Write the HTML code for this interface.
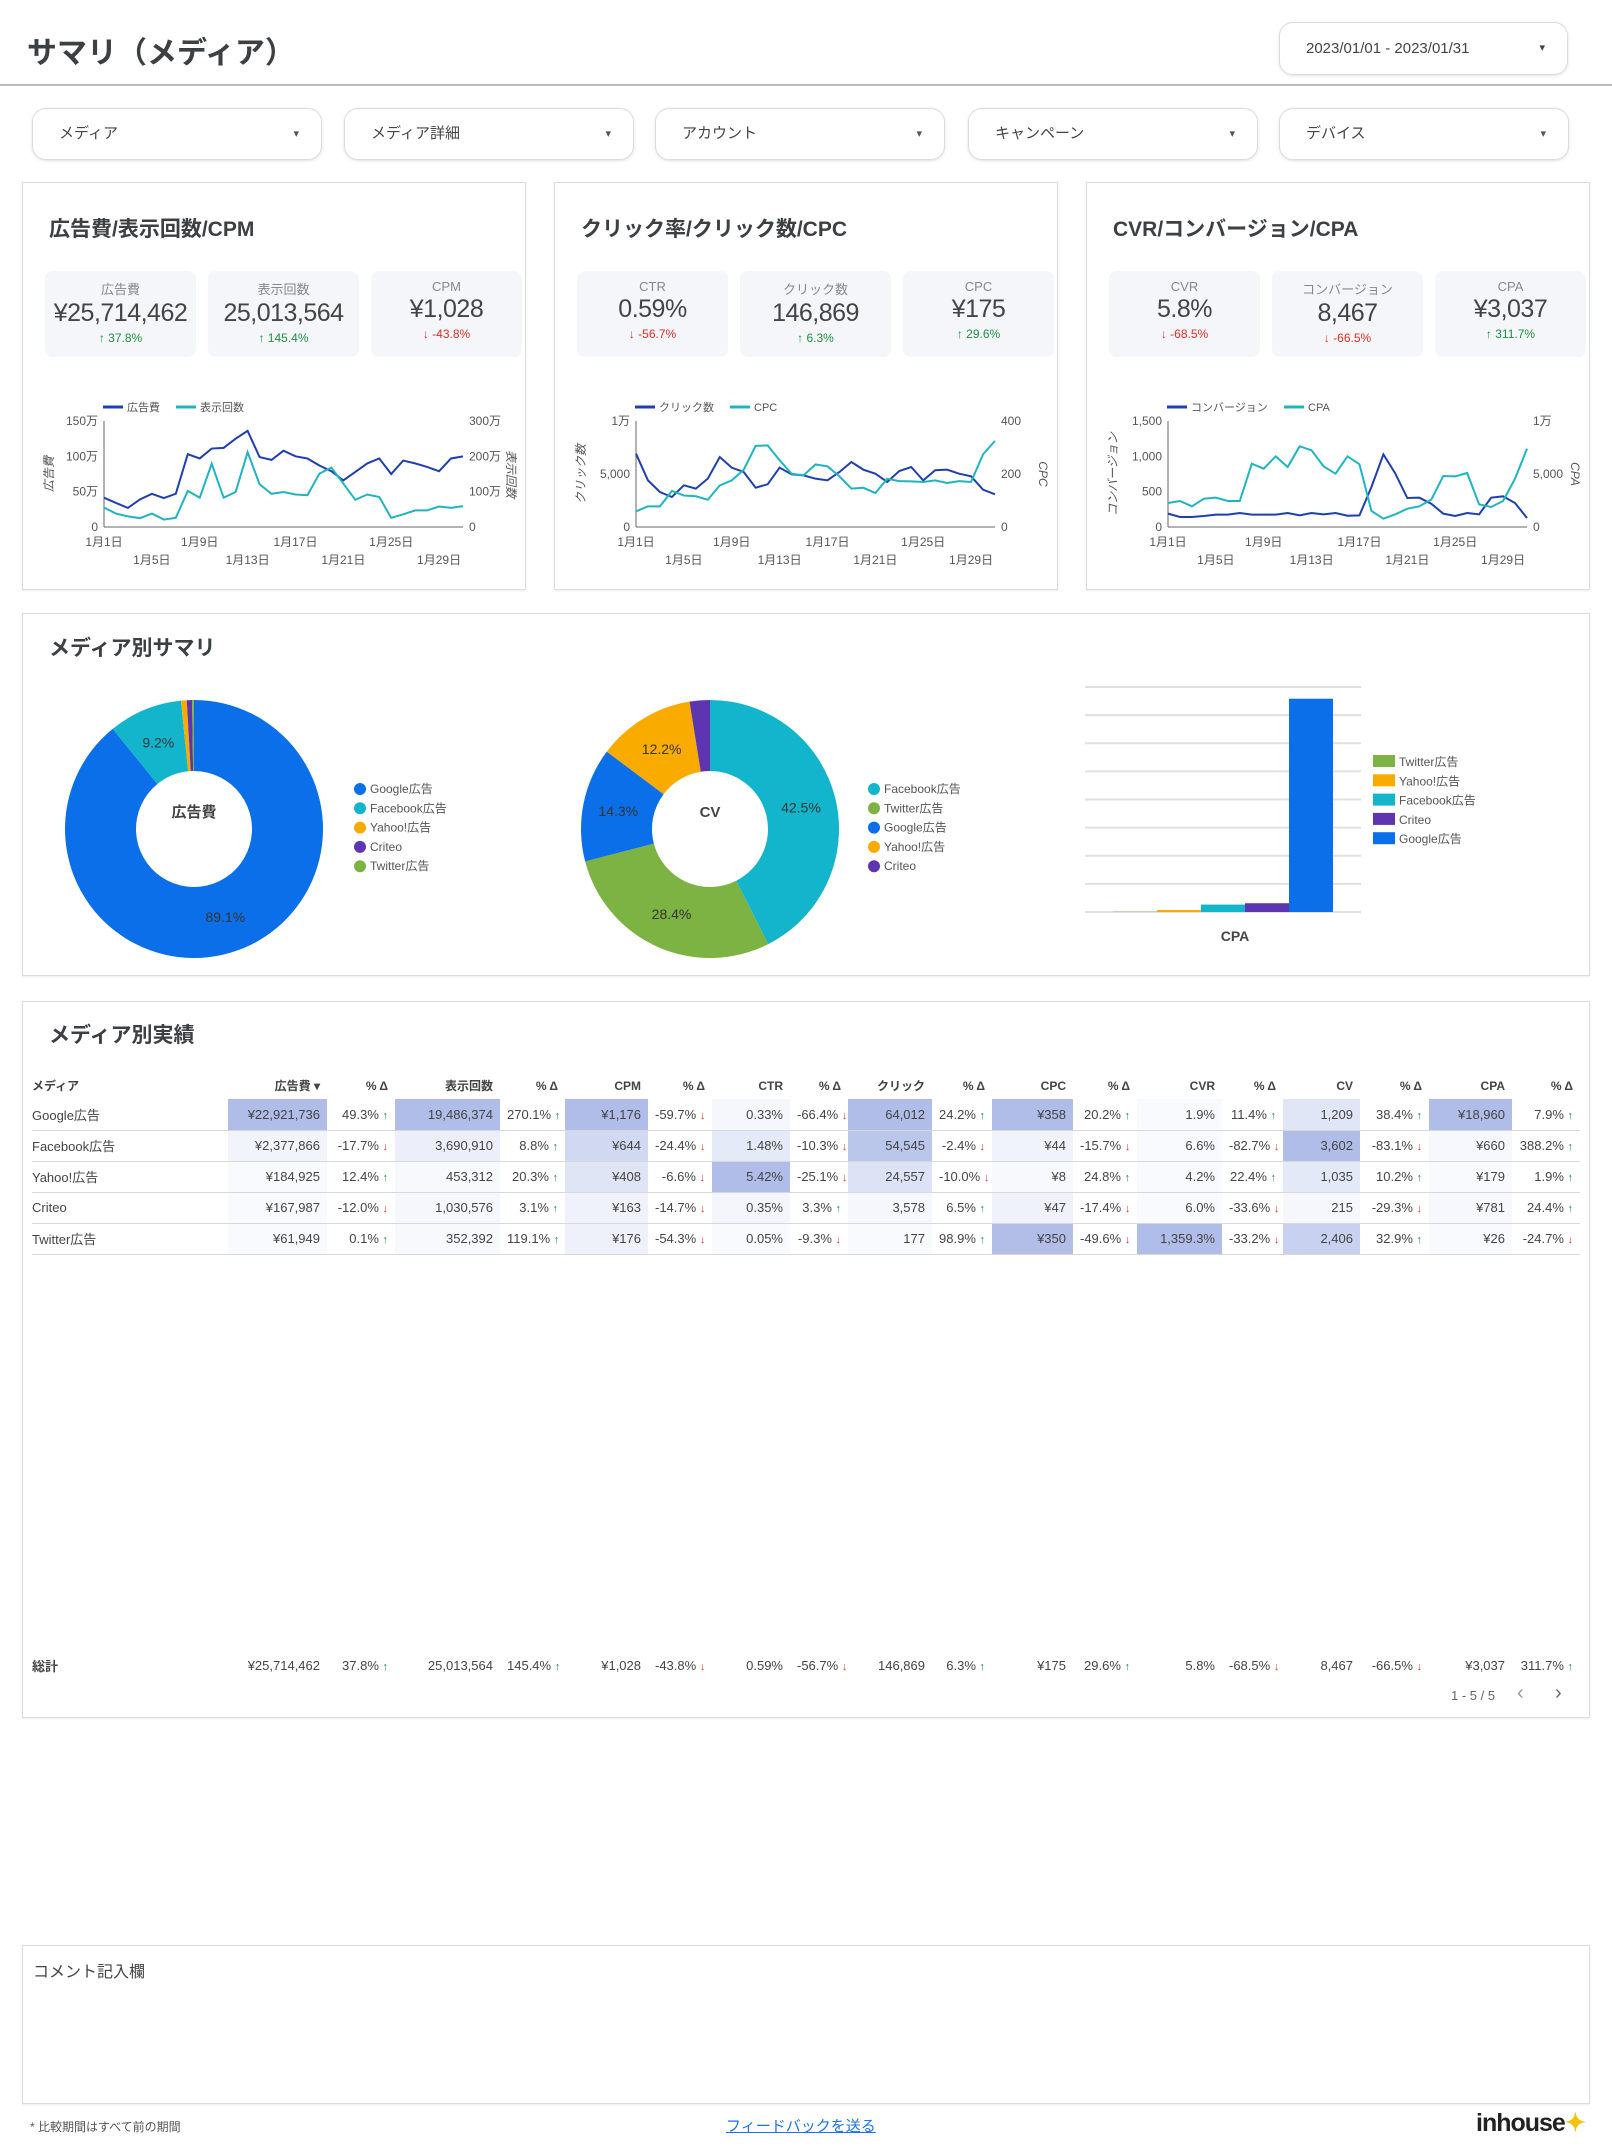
<!DOCTYPE html>
<html lang="ja"><head><meta charset="utf-8"><style>
*{box-sizing:border-box;margin:0;padding:0}
body{width:1612px;height:2149px;background:#fff;font-family:"Liberation Sans","Noto Sans CJK JP",sans-serif;color:#3c4043;position:relative;overflow:hidden}
.abs{position:absolute}
.card{position:absolute;border:1px solid #dadce0;background:#fff;box-shadow:0 1px 2px rgba(0,0,0,.08)}
.filter{position:absolute;top:108px;height:52px;width:290px;border:1px solid #dadce0;border-radius:14px;box-shadow:0 1px 3px rgba(0,0,0,.12);font-size:15px;line-height:50px;padding-left:26px;color:#444}
.filter:after{content:"▾";position:absolute;right:22px;font-size:11px;color:#555}
.ctitle{position:absolute;font-size:21px;font-weight:bold;color:#3c4043}
.kpi{position:absolute;top:88px;width:151px;height:86px;background:#f4f6f9;border-radius:8px;text-align:center}
.kpi .l{font-size:13px;color:#888;margin-top:8px}
.kpi .v{font-size:25px;color:#444;line-height:30px;letter-spacing:-0.5px}
.kpi .d{font-size:12px;margin-top:3px}
.up{color:#1e8e3e}.dn{color:#d93025}
table{position:absolute;left:32px;top:1072px;border-collapse:collapse;font-size:13px;color:#444;table-layout:fixed;width:1548px}
td,th{height:31px;text-align:right;padding:0 7px;white-space:nowrap;vertical-align:middle;overflow:hidden}
th{font-size:12px;font-weight:bold;height:27px}
tbody tr td{border-bottom:1px solid #d8d8d8}
td.n,th.n{text-align:left;padding-left:0}
.ua{color:#1e8e3e;font-size:11px;font-weight:bold}.da{color:#d93025;font-size:11px;font-weight:bold}
</style></head><body>
<div class="abs" style="left:27px;top:28px;font-size:30px;font-weight:bold;color:#3c4043">サマリ（メディア）</div>
<div class="abs" style="left:1279px;top:22px;width:289px;height:53px;border:1px solid #dadce0;border-radius:14px;box-shadow:0 1px 3px rgba(0,0,0,.12);font-size:15px;line-height:51px;padding-left:26px;color:#444">2023/01/01 - 2023/01/31<span style="position:absolute;right:22px;font-size:11px">▾</span></div>
<div class="abs" style="left:0;top:84px;width:1612px;height:2px;background:#bdbdbd"></div>
<div class="filter" style="left:32px">メディア</div>
<div class="filter" style="left:344px">メディア詳細</div>
<div class="filter" style="left:655px">アカウント</div>
<div class="filter" style="left:968px">キャンペーン</div>
<div class="filter" style="left:1279px">デバイス</div>

<div class="card" style="left:22px;top:182px;width:504px;height:408px">
 <div class="ctitle" style="left:26px;top:30px">広告費/表示回数/CPM</div>
 <div class="kpi" style="left:22px"><div class="l">広告費</div><div class="v">¥25,714,462</div><div class="d up">↑ 37.8%</div></div>
 <div class="kpi" style="left:185px"><div class="l">表示回数</div><div class="v">25,013,564</div><div class="d up">↑ 145.4%</div></div>
 <div class="kpi" style="left:348px"><div class="l">CPM</div><div class="v">¥1,028</div><div class="d dn">↓ -43.8%</div></div>
 <svg id="c1" class="abs" style="left:0;top:204px" width="504" height="200"></svg>
</div>
<div class="card" style="left:554px;top:182px;width:504px;height:408px">
 <div class="ctitle" style="left:26px;top:30px">クリック率/クリック数/CPC</div>
 <div class="kpi" style="left:22px"><div class="l">CTR</div><div class="v">0.59%</div><div class="d dn">↓ -56.7%</div></div>
 <div class="kpi" style="left:185px"><div class="l">クリック数</div><div class="v">146,869</div><div class="d up">↑ 6.3%</div></div>
 <div class="kpi" style="left:348px"><div class="l">CPC</div><div class="v">¥175</div><div class="d up">↑ 29.6%</div></div>
 <svg id="c2" class="abs" style="left:0;top:204px" width="504" height="200"></svg>
</div>
<div class="card" style="left:1086px;top:182px;width:504px;height:408px">
 <div class="ctitle" style="left:26px;top:30px">CVR/コンバージョン/CPA</div>
 <div class="kpi" style="left:22px"><div class="l">CVR</div><div class="v">5.8%</div><div class="d dn">↓ -68.5%</div></div>
 <div class="kpi" style="left:185px"><div class="l">コンバージョン</div><div class="v">8,467</div><div class="d dn">↓ -66.5%</div></div>
 <div class="kpi" style="left:348px"><div class="l">CPA</div><div class="v">¥3,037</div><div class="d up">↑ 311.7%</div></div>
 <svg id="c3" class="abs" style="left:0;top:204px" width="504" height="200"></svg>
</div>

<div class="card" style="left:22px;top:613px;width:1568px;height:363px">
 <div class="ctitle" style="left:26px;top:18px">メディア別サマリ</div>
 <svg id="ms" class="abs" style="left:0;top:0" width="1568" height="363"></svg>
</div>

<div class="card" style="left:22px;top:1001px;width:1568px;height:717px">
 <div class="ctitle" style="left:26px;top:17px">メディア別実績</div>
 <div class="abs" style="left:1428px;top:686px;font-size:13px;color:#666">1 - 5 / 5</div>
 <div class="abs" style="left:1494px;top:680px;font-size:20px;color:#999">‹</div>
 <div class="abs" style="left:1532px;top:680px;font-size:20px;color:#666">›</div>
</div>
<table id="tbl"></table>

<div class="card" style="left:22px;top:1945px;width:1568px;height:159px">
 <div class="abs" style="left:10px;top:12px;font-size:16px;color:#444">コメント記入欄</div>
</div>
<div class="abs" style="left:30px;top:2118px;font-size:12px;color:#555">* 比較期間はすべて前の期間</div>
<div class="abs" style="left:726px;top:2115px;font-size:15px;color:#1a73e8;text-decoration:underline">フィードバックを送る</div>
<div class="abs" style="left:1476px;top:2108px;font-size:25px;font-weight:bold;color:#222;letter-spacing:-1px">inhouse<span style="color:#f4c20d">✦</span></div>

<script>
const NS="http://www.w3.org/2000/svg";
function el(p,t,a,txt){const e=document.createElementNS(NS,t);for(const k in a)e.setAttribute(k,a[k]);if(txt!==undefined)e.textContent=txt;p.appendChild(e);return e;}
const days=[1,2,3,4,5,6,7,8,9,10,11,12,13,14,15,16,17,18,19,20,21,22,23,24,25,26,27,28,29,30,31];
const costMan=[41.5,34,27,39,47,41,47,103,97,111,112,125,136,99,95,108,100,97,87,79,66,78,90,97,75,94,90,85,79,97,100];
const impMan=[55,38,30,25,38,21,26,102,83,179,83,99,212,121,94,99,92,90,151,168,123,77,92,85,26,36,47,47,58,54,59];
const clicks=[6918,4400,3300,2830,3930,3620,4560,6600,5600,5190,3710,4030,5600,4970,4870,4560,4400,5190,6130,5410,5030,4250,5280,5660,4400,5350,5410,5030,4780,3520,3080];
const cpc=[59,78,78,136,119,116,103,157,176,216,306,308,252,201,195,236,229,191,145,148,128,182,173,172,170,176,166,173,170,274,325];
const cv=[189,142,142,156,175,175,198,175,175,175,198,165,198,179,198,160,165,566,1028,755,410,415,330,189,156,198,179,415,434,340,127];
const cpa=[2264,2453,1950,2673,2767,2453,2453,5975,5503,6667,5660,7610,7233,5723,5031,6667,5912,1509,786,1195,1730,1950,2579,4811,4780,5094,2138,1887,2453,4560,7390];
const c1L=["0","50万","100万","150万"],c1R=["0","100万","200万","300万"];
const c2L=["0","5,000","1万"],c2R=["0","200","400"];
const c3L=["0","500","1,000","1,500"],c3R=["0","5,000","1万"];
const xTicks=[1,5,9,13,17,21,25,29];
function lineChart(id,s1,max1,s2,max2,nm1,nm2,tl,tr,t1,t2){
 const svg=document.getElementById(id);const X0=81,X1=440,Y0=140,Y1=34;
 const x=d=>X0+(d-1)*(X1-X0)/30;const y1=v=>Y0-v/max1*(Y0-Y1);const y2=v=>Y0-v/max2*(Y0-Y1);
 const lg=el(svg,'g',{});
 el(lg,'line',{x1:80,x2:100,y1:20,y2:20,stroke:'#1f3fb0','stroke-width':3});
 el(lg,'text',{x:104,y:24,'font-size':11,fill:'#555'},nm1);
 const w=nm1.length*11+40;
 el(lg,'line',{x1:80+w,x2:100+w,y1:20,y2:20,stroke:'#1fb5c0','stroke-width':3});
 el(lg,'text',{x:104+w,y:24,'font-size':11,fill:'#555'},nm2);
 el(svg,'line',{x1:X0,x2:X0,y1:Y1,y2:Y0,stroke:'#666'});el(svg,'line',{x1:X0,x2:X1,y1:Y0,y2:Y0,stroke:'#666'});
 tl.forEach((t,i)=>{const yy=Y0-i*(Y0-Y1)/(tl.length-1);el(svg,'text',{x:X0-6,y:yy+4,'text-anchor':'end','font-size':12,fill:'#555'},t);});
 tr.forEach((t,i)=>{const yy=Y0-i*(Y0-Y1)/(tr.length-1);el(svg,'text',{x:X1+6,y:yy+4,'font-size':12,fill:'#555'},t);});
 xTicks.forEach((d,i)=>{el(svg,'text',{x:x(d),y:i%2?177:159,'text-anchor':'middle','font-size':12,fill:'#555'},'1月'+d+'日');});
 el(svg,'text',{x:0,y:0,transform:'translate(30,87) rotate(-90)','text-anchor':'middle','font-size':12,fill:'#555','font-style':'italic'},t1);
 el(svg,'text',{x:0,y:0,transform:'translate(484,87) rotate(90)','text-anchor':'middle','font-size':12,fill:'#555','font-style':'italic'},t2);
 const p1=el(svg,'polyline',{points:s1.map((v,i)=>x(days[i])+','+y1(v)).join(' '),fill:'none',stroke:'#1f3fb0','stroke-width':2});
 
 
 const p2=el(svg,'polyline',{points:s2.map((v,i)=>x(days[i])+','+y2(v)).join(' '),fill:'none',stroke:'#1fb5c0','stroke-width':2});
 
 
}
lineChart('c1',costMan,150,impMan,300,'広告費','表示回数',c1L,c1R,'広告費','表示回数');
lineChart('c2',clicks,10000,cpc,400,'クリック数','CPC',c2L,c2R,'クリック数','CPC');
lineChart('c3',cv,1500,cpa,10000,'コンバージョン','CPA',c3L,c3R,'コンバージョン','CPA');

const costMedia=['Google広告','Facebook広告','Yahoo!広告','Criteo','Twitter広告'];
const costVals=[22921736,2377866,184925,167987,61949];
const cvMedia=['Facebook広告','Twitter広告','Google広告','Yahoo!広告','Criteo'];
const cvVals=[3602,2406,1209,1035,215];
const cpaMedia=['Twitter広告','Yahoo!広告','Facebook広告','Criteo','Google広告'];
const cpaVals=[26,179,660,781,18960];
const colors={'Google広告':'#0a6fe8','Facebook広告':'#12b5cb','Yahoo!広告':'#f9ab00','Criteo':'#5e35b1','Twitter広告':'#7cb342'};
const ms=document.getElementById('ms');
function donut(cx,cy,R,r,names,vals,center,lx){
 const tot=vals.reduce((a,b)=>a+b,0);let a0=-Math.PI/2;
 names.forEach((n,i)=>{const a1=a0+vals[i]/tot*2*Math.PI;const lg=(a1-a0)>Math.PI?1:0;
  const P=(rr,a)=>(cx+rr*Math.cos(a)).toFixed(2)+','+(cy+rr*Math.sin(a)).toFixed(2);
  const s=el(ms,'path',{d:'M'+P(R,a0)+' A'+R+','+R+' 0 '+lg+' 1 '+P(R,a1)+' L'+P(r,a1)+' A'+r+','+r+' 0 '+lg+' 0 '+P(r,a0)+'Z',fill:colors[n]});
  
  
  const pct=vals[i]/tot*100;if(pct>5){const am=(a0+a1)/2,rm=(R+r)/2;
   el(ms,'text',{x:cx+rm*Math.cos(am),y:cy+rm*Math.sin(am)+5,'text-anchor':'middle','font-size':14,fill:'#333'},pct.toFixed(1)+'%');}
  a0=a1;});
 el(ms,'text',{x:cx,y:cy-12,'text-anchor':'middle','font-size':15,'font-weight':'bold',fill:'#444'},center);
 names.forEach((n,i)=>{const g=el(ms,'g',{});
  el(g,'circle',{cx:lx,cy:175+i*19.3,r:6,fill:colors[n]});el(g,'text',{x:lx+10,y:179+i*19.3,'font-size':12,fill:'#555'},n);});
}
donut(171,215,129,58,costMedia,costVals,'広告費',337);
donut(687,215,129,58,cvMedia,cvVals,'CV',851);
const bX0=1062,bX1=1338,bY0=298,bY1=73,bMax=20000;
for(let i=0;i<=8;i++){const yy=bY0-i*(bY0-bY1)/8;el(ms,'line',{x1:bX0,x2:bX1,y1:yy,y2:yy,stroke:'#e0e0e0','stroke-width':2});}
cpaMedia.forEach((n,i)=>{const h=cpaVals[i]/bMax*(bY0-bY1);const b=el(ms,'rect',{x:1090+i*44,y:bY0-h,width:44,height:h,fill:colors[n]});
 
 
 const g=el(ms,'g',{});
 el(g,'rect',{x:1350,y:141+i*19.3,width:22,height:12,fill:colors[n]});el(g,'text',{x:1376,y:152+i*19.3,'font-size':12,fill:'#555'},n);});
el(ms,'text',{x:1212,y:327,'text-anchor':'middle','font-size':14,'font-weight':'bold',fill:'#444'},'CPA');

const heads=['メディア','広告費 ▾','% Δ','表示回数','% Δ','CPM','% Δ','CTR','% Δ','クリック','% Δ','CPC','% Δ','CVR','% Δ','CV','% Δ','CPA','% Δ'];
const widths=[196,99,68,105,65,83,64,78,58,84,60,81,64,85,61,77,69,83,68];
const rows=[
['Google広告','¥22,921,736','49.3%','19,486,374','270.1%','¥1,176','-59.7%','0.33%','-66.4%','64,012','24.2%','¥358','20.2%','1.9%','11.4%','1,209','38.4%','¥18,960','7.9%'],
['Facebook広告','¥2,377,866','-17.7%','3,690,910','8.8%','¥644','-24.4%','1.48%','-10.3%','54,545','-2.4%','¥44','-15.7%','6.6%','-82.7%','3,602','-83.1%','¥660','388.2%'],
['Yahoo!広告','¥184,925','12.4%','453,312','20.3%','¥408','-6.6%','5.42%','-25.1%','24,557','-10.0%','¥8','24.8%','4.2%','22.4%','1,035','10.2%','¥179','1.9%'],
['Criteo','¥167,987','-12.0%','1,030,576','3.1%','¥163','-14.7%','0.35%','3.3%','3,578','6.5%','¥47','-17.4%','6.0%','-33.6%','215','-29.3%','¥781','24.4%'],
['Twitter広告','¥61,949','0.1%','352,392','119.1%','¥176','-54.3%','0.05%','-9.3%','177','98.9%','¥350','-49.6%','1,359.3%','-33.2%','2,406','32.9%','¥26','-24.7%']];
const total=['総計','¥25,714,462','37.8%','25,013,564','145.4%','¥1,028','-43.8%','0.59%','-56.7%','146,869','6.3%','¥175','29.6%','5.8%','-68.5%','8,467','-66.5%','¥3,037','311.7%'];
const num=s=>parseFloat(s.replace(/[¥,%]/g,''));
const tbl=document.getElementById('tbl');
const cg=document.createElement('colgroup');
widths.forEach(w=>{const c=document.createElement('col');c.style.width=w+'px';cg.appendChild(c);});
tbl.appendChild(cg);
const thead=document.createElement('thead');const hr=document.createElement('tr');
heads.forEach((h,i)=>{const th=document.createElement('th');th.textContent=h;if(i==0)th.className='n';hr.appendChild(th);});
thead.appendChild(hr);tbl.appendChild(thead);
const tb=document.createElement('tbody');
const maxes=heads.map((h,c)=>Math.max(...rows.map(r=>num(r[c])||0)));
function fmtDelta(td,s){const up=num(s)>=0;td.innerHTML=s+' <span class="'+(up?'ua':'da')+'">'+(up?'↑':'↓')+'</span>';}
rows.forEach(r=>{const tr=document.createElement('tr');
 
 
 r.forEach((v,c)=>{const td=document.createElement('td');
  if(c==0){td.className='n';td.textContent=v;}
  else if(c%2==1){td.textContent=v;const t=num(v)/maxes[c];const a=0.07+0.93*t;
   td.style.background='rgb('+Math.round(255-a*(255-176))+','+Math.round(255-a*(255-189))+','+Math.round(255-a*(255-232))+')';}
  else fmtDelta(td,v);
  tr.appendChild(td);});tb.appendChild(tr);});
tbl.appendChild(tb);
const tf=document.createElement('tfoot');const ftr=document.createElement('tr');


total.forEach((v,c)=>{const td=document.createElement('td');if(c==0){td.className='n';td.style.fontWeight='bold';td.textContent=v;}else if(c%2==1)td.textContent=v;else fmtDelta(td,v);ftr.appendChild(td);});
const spacer=document.createElement('tr');const sp=document.createElement('td');sp.colSpan=19;sp.style.height='396px';spacer.appendChild(sp);
tf.appendChild(spacer);tf.appendChild(ftr);tbl.appendChild(tf);
</script>
</body></html>
